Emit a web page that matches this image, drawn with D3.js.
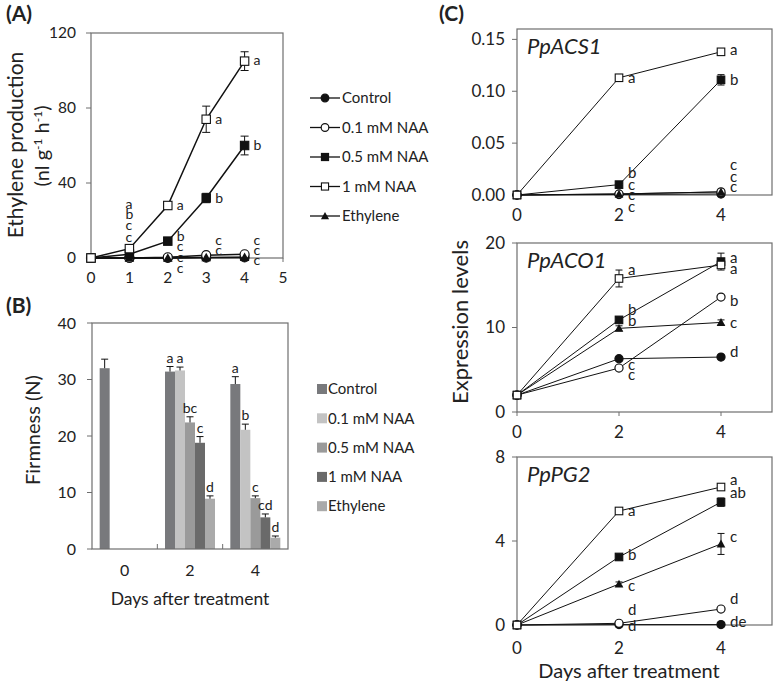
<!DOCTYPE html>
<html><head><meta charset="utf-8">
<script src="https://cdn.jsdelivr.net/npm/d3@7"></script>
<style>body{margin:0;background:#fff}svg{display:block;font-family:Lato,"Noto Sans",sans-serif}</style>
</head><body><svg id="c" width="773" height="682"></svg>
<script>
// ---------- DATA ----------
const seriesNames = ["Control","0.1 mM NAA","0.5 mM NAA","1 mM NAA","Ethylene"];
const markerTypes = ["circleFill","circleOpen","squareFill","squareOpen","triangle"];
const barColors = ["#78797c","#c3c3c3","#9a9a9a","#6a6a6a","#aaaaaa"];

// Panel A: ethylene production
const daysA = [0,1,2,3,4];
const ethValues = [
  [0,0,0,0.2,0.3],
  [0,0,0.4,1.5,2],
  [0,2,9,32,60],
  [0,5,28,74,105],
  [0,0,0,0.3,0.4]
];
const ethErr = [
  [0,0,0,0,0],
  [0,0,0,0.3,0.3],
  [0,0.3,0.8,2.5,5],
  [0,0.5,1,7,5],
  [0,0,0,0,0]
];
const lettersA = [
  [1,29,"a"],[1,23.6,"b"],[1,17.3,"c"],[1,11.3,"c"],
  [2,28,"a"],[2,11.7,"b"],[2,6.4,"c"],[2,0.6,"c"],[2,-5.2,"c"],
  [3,32,"b"],[3,74,"a"],[3,9.6,"c"],[3,4.3,"c"],
  [4,105.5,"a"],[4,60,"b"],[4,9.6,"c"],[4,4.3,"c"],[4,-1,"c"]
];
const ticksAx = [0,1,2,3,4,5];
const ticksAy = [0,40,80,120];

// Panel B: firmness
const daysB = ["0","2","4"];
const firmness = [
  [32.0, 31.4, 29.2],
  [null, 31.6, 21.1],
  [null, 22.4, 9.0],
  [null, 18.8, 5.6],
  [null, 8.9, 2.0]
];
const firmErr = [
  [1.6, 0.9, 1.3],
  [0, 0.6, 1.0],
  [0, 1.0, 0.4],
  [0, 1.1, 0.6],
  [0, 0.5, 0.3]
];
const lettersB = [
  [null,"a","a"],[null,"a","b"],[null,"bc","c"],[null,"c","cd"],[null,"d","d"]
];
const ticksBy = [0,10,20,30,40];

// Panel C: expression
const daysC = [0,2,4];
const ticksCx = [0,2,4];
const acs1 = [
  [0,0.0005,0.001],
  [0,0.001,0.003],
  [0,0.010,0.111],
  [0,0.113,0.138],
  [0,0.001,0.003]
];
const acs1Err = [[0,0,0],[0,0,0],[0,0.001,0.005],[0,0.001,0.002],[0,0,0]];
const aco1 = [
  [2.0,6.3,6.5],
  [2.0,5.2,13.6],
  [2.0,10.9,17.8],
  [2.0,15.8,17.4],
  [2.0,9.9,10.6]
];
const aco1Err = [[0,0,0],[0,0,0],[0,0.3,1.0],[0,1.0,0.4],[0,0.3,0.3]];
const pg2 = [
  [0,0.02,0.02],
  [0,0.08,0.76],
  [0,3.24,5.85],
  [0,5.43,6.57],
  [0,1.95,3.86]
];
const pg2Err = [[0,0,0],[0,0,0],[0,0.1,0.2],[0,0.05,0.1],[0,0.1,0.5]];
const lettersC1 = [
  [2,0.113,"a"],[2,0.0215,"b"],[2,0.0095,"c"],[2,0.0,"c"],[2,-0.0115,"c"],
  [4,0.14,"a"],[4,0.111,"b"],[4,0.029,"c"],[4,0.0175,"c"],[4,0.0075,"c"]
];
const lettersC2 = [
  [2,16.8,"a"],[2,12.1,"b"],[2,10.8,"b"],[2,5.6,"c"],[2,4.4,"c"],
  [4,18.2,"a"],[4,17.0,"a"],[4,13.2,"b"],[4,10.6,"c"],[4,7.1,"d"]
];
const lettersC3 = [
  [2,5.43,"a"],[2,3.33,"b"],[2,1.86,"c"],[2,0.72,"d"],[2,-0.05,"d"],
  [4,6.9,"a"],[4,6.3,"ab"],[4,4.2,"c"],[4,1.25,"d"],[4,0.15,"de"]
];
const ticksC1y = [0,0.05,0.10,0.15];
const ticksC2y = [0,10,20];
const ticksC3y = [0,4,8];

// ---------- DRAW ----------
const svg = d3.select("#c");
const txt = "#222", boxCol = "#6e6e6e";

function marker(g, type, x, y, s) {
  s = s || 1;
  if (type.startsWith("circle")) {
    g.append("circle").attr("cx",x).attr("cy",y).attr("r",4.5*s)
      .attr("fill", type==="circleFill"?"#111":"#fff").attr("stroke","#111").attr("stroke-width",1.2);
  } else if (type.startsWith("square")) {
    const h = 4.2*s;
    g.append("rect").attr("x",x-h).attr("y",y-h).attr("width",2*h).attr("height",2*h)
      .attr("fill", type==="squareFill"?"#111":"#fff").attr("stroke","#111").attr("stroke-width",1.1);
  } else {
    const h = 4.8*s;
    g.append("path").attr("d",`M${x},${y-h}L${x+h},${y+h*0.8}L${x-h},${y+h*0.8}Z`).attr("fill","#111");
  }
}

function box(g, x0, x1, y0, y1) {
  g.append("rect").attr("x",x0).attr("y",y0).attr("width",x1-x0).attr("height",y1-y0)
    .attr("fill","none").attr("stroke",boxCol).attr("stroke-width",1.2);
}

function yTicks(g, y, ticks, x0, fmt, fs, gap) {
  ticks.forEach(t => {
    g.append("line").attr("x1",x0-5).attr("x2",x0).attr("y1",y(t)).attr("y2",y(t)).attr("stroke",boxCol);
    g.append("text").attr("x",x0-gap).attr("y",y(t)).attr("dy","0.35em").attr("text-anchor","end")
      .attr("font-size",fs).attr("fill",txt).text(fmt(t));
  });
}
function xTicks(g, x, ticks, y0, ly, fs) {
  ticks.forEach(t => {
    g.append("line").attr("x1",x(t)).attr("x2",x(t)).attr("y1",y0).attr("y2",y0+4).attr("stroke",boxCol);
    g.append("text").attr("x",x(t)).attr("y",ly).attr("dy","0.35em").attr("text-anchor","middle")
      .attr("font-size",fs).attr("fill",txt).text(t);
  });
}

function linePanel(g, x, y, days, vals, errs, sw, ms, capW) {
  const line = d3.line().x((d,i)=>x(days[i])).y(d=>y(d));
  vals.forEach(v => g.append("path").attr("d",line(v)).attr("fill","none").attr("stroke","#111").attr("stroke-width",sw));
  vals.forEach((v,si) => v.forEach((d,i) => {
    const e = errs[si][i];
    if (e > 0) {
      const xx = x(days[i]);
      g.append("line").attr("x1",xx).attr("x2",xx).attr("y1",y(d-e)).attr("y2",y(d+e)).attr("stroke","#111");
      [d-e,d+e].forEach(q => g.append("line").attr("x1",xx-capW).attr("x2",xx+capW).attr("y1",y(q)).attr("y2",y(q)).attr("stroke","#111"));
    }
  }));
  [0,1,4,2,3].forEach(si => vals[si].forEach((d,i) => marker(g, markerTypes[si], x(days[i]), y(d), ms)));
}

function letters(g, x, y, arr, dx, fs) {
  arr.forEach(l => g.append("text").attr("x",x(l[0])+dx).attr("y",y(l[1])).attr("dy","0.35em")
    .attr("font-size",fs).attr("fill",txt).text(l[2]));
}

// ===== Panel A =====
{
  const g = svg.append("g");
  const x = d3.scaleLinear().domain([0,5]).range([91,283]);
  const y = d3.scaleLinear().domain([0,120]).range([258,33]);
  box(g,91,283,33,258);
  yTicks(g,y,ticksAy,91,d=>d,15.5,15);
  xTicks(g,x,ticksAx,258,278,15.5);
  linePanel(g,x,y,daysA,ethValues,ethErr,1.5,1,4);
  letters(g,x,y,lettersA.filter(l=>l[0]===1),-4,14);
  letters(g,x,y,lettersA.filter(l=>l[0]!==1),9,14);
  g.append("text").attr("x",6).attr("y",21).attr("font-size",21).attr("font-weight","bold").attr("fill",txt).text("(A)");
  g.append("text").attr("transform","translate(16,145) rotate(-90)").attr("text-anchor","middle").attr("dy","0.35em")
    .attr("font-size",21).attr("fill",txt).text("Ethylene  production");
  const t2 = g.append("text").attr("transform","translate(42,146) rotate(-90)").attr("text-anchor","middle").attr("dy","0.35em")
    .attr("font-size",20).attr("fill",txt);
  t2.append("tspan").text("(nl g");
  t2.append("tspan").attr("dy",-7).attr("font-size",12).text("-1");
  t2.append("tspan").attr("dy",7).text(" h");
  t2.append("tspan").attr("dy",-7).attr("font-size",12).text("-1");
  t2.append("tspan").attr("dy",7).text(")");
  // legend
  seriesNames.forEach((n,i) => {
    const yy = 98 + i*29.5;
    g.append("line").attr("x1",310).attr("x2",340).attr("y1",yy).attr("y2",yy).attr("stroke","#111").attr("stroke-width",1.3);
    marker(g, markerTypes[i], 325, yy, 0.85);
    g.append("text").attr("x",342).attr("y",yy).attr("dy","0.35em").attr("font-size",15).attr("fill",txt).text(n);
  });
}

// ===== Panel B =====
{
  const g = svg.append("g");
  const x = d3.scaleBand().domain(daysB).range([92,288]);
  const y = d3.scaleLinear().domain([0,40]).range([549,323]);
  const bw = 10, off = (x.bandwidth() - 5*bw)/2;
  firmness.forEach((vals,si) => vals.forEach((v,i) => {
    if (v == null) return;
    const bx = x(daysB[i]) + off + si*bw;
    g.append("rect").attr("x",bx).attr("y",y(v)).attr("width",bw).attr("height",y(0)-y(v)).attr("fill",barColors[si]);
    const e = firmErr[si][i], cx = bx + bw/2;
    g.append("line").attr("x1",cx).attr("x2",cx).attr("y1",y(v)).attr("y2",y(v+e)).attr("stroke","#111");
    g.append("line").attr("x1",cx-3.5).attr("x2",cx+3.5).attr("y1",y(v+e)).attr("y2",y(v+e)).attr("stroke","#111");
    const L = lettersB[si][i];
    if (L) g.append("text").attr("x",cx).attr("y",y(v+e)-4).attr("text-anchor","middle").attr("font-size",14).attr("fill",txt).text(L);
  }));
  box(g,92,288,323,549);
  yTicks(g,y,ticksBy,92,d=>d,16,16);
  [x("2"), x("4")].forEach(xx => g.append("line").attr("x1",xx).attr("x2",xx).attr("y1",549).attr("y2",544).attr("stroke",boxCol));
  daysB.forEach(d => g.append("text").attr("x",x(d)+x.bandwidth()/2).attr("y",570).attr("dy","0.35em")
    .attr("text-anchor","middle").attr("font-size",16).attr("fill",txt).text(d));
  g.append("text").attr("x",190).attr("y",599).attr("dy","0.35em").attr("text-anchor","middle").attr("font-size",17.5).attr("fill",txt).text("Days after treatment");
  g.append("text").attr("x",6).attr("y",313).attr("font-size",21).attr("font-weight","bold").attr("fill",txt).text("(B)");
  g.append("text").attr("transform","translate(33,430) rotate(-90)").attr("text-anchor","middle").attr("dy","0.35em")
    .attr("font-size",20).attr("fill",txt).text("Firmness (N)");
  seriesNames.forEach((n,i) => {
    const yy = 389 + i*29.3;
    g.append("rect").attr("x",317).attr("y",yy-5).attr("width",10).attr("height",10).attr("fill",barColors[i]);
    g.append("text").attr("x",328).attr("y",yy).attr("dy","0.35em").attr("font-size",15).attr("fill",txt).text(n);
  });
}

// ===== Panel C =====
{
  const g = svg.append("g");
  const x = d3.scaleLinear().domain([0,5]).range([517,772]);
  const subs = [
    {vals:acs1, errs:acs1Err, dom:[0,0.16], r:[195,29], ticks:ticksC1y, fmt:d3.format(".2f"), lab:lettersC1, name:"PpACS1", ly:215},
    {vals:aco1, errs:aco1Err, dom:[0,20], r:[412,243], ticks:ticksC2y, fmt:d=>d, lab:lettersC2, name:"PpACO1", ly:432},
    {vals:pg2, errs:pg2Err, dom:[0,8], r:[625,457], ticks:ticksC3y, fmt:d=>d, lab:lettersC3, name:"PpPG2", ly:648}
  ];
  subs.forEach(s => {
    const y = d3.scaleLinear().domain(s.dom).range(s.r);
    box(g,517,772,s.r[1],s.r[0]);
    yTicks(g,y,s.ticks,517,s.fmt,17,12);
    xTicks(g,x,ticksCx,s.r[0],s.ly,17);
    linePanel(g,x,y,daysC,s.vals,s.errs,1,0.9,3.5);
    letters(g,x,y,s.lab,9,15);
    g.append("text").attr("x",527).attr("y",s.r[1]+17).attr("dy","0.35em").attr("font-size",22)
      .attr("font-style","italic").attr("fill",txt).text(s.name);
  });
  g.append("text").attr("x",439).attr("y",21).attr("font-size",21).attr("font-weight","bold").attr("fill",txt).text("(C)");
  g.append("text").attr("transform","translate(460,322) rotate(-90)").attr("text-anchor","middle").attr("dy","0.35em")
    .attr("font-size",22).attr("fill",txt).text("Expression levels");
  g.append("text").attr("x",629).attr("y",671).attr("dy","0.35em").attr("text-anchor","middle").attr("font-size",20).attr("fill",txt).text("Days after treatment");
}
</script></body></html>
